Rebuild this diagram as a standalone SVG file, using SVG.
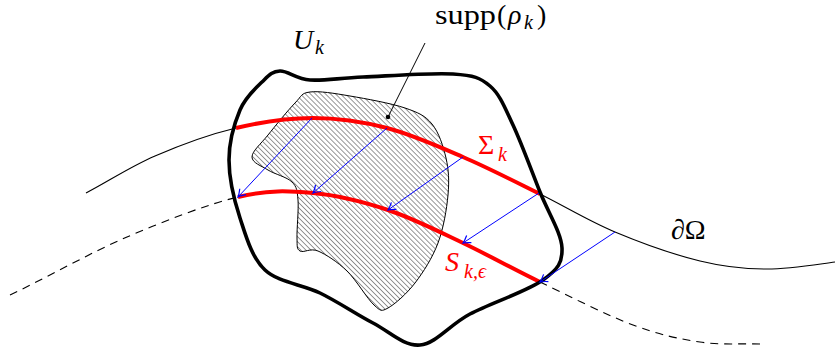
<svg xmlns="http://www.w3.org/2000/svg" width="835" height="351" viewBox="0 0 835 351">
<style>
  .thin{fill:none;stroke:#000;stroke-width:1.1}
  .dash{fill:none;stroke:#000;stroke-width:1.1;stroke-dasharray:8 6}
  .red{fill:none;stroke:#ff0000;stroke-width:4}
  .blue{fill:none;stroke:#0000ff;stroke-width:1;marker-end:url(#ah)}
  .uk{fill:none;stroke:#000;stroke-width:3.6;stroke-linejoin:round}
  .lbl{font-family:'Liberation Serif',serif;font-size:28px;fill:#000}
  .it{font-style:italic}
  .sub{font-size:20px;font-style:italic}
  .rd{fill:#ff0000}
</style>
<defs>
  <pattern id="hatch" patternUnits="userSpaceOnUse" width="3.55" height="3.55" patternTransform="rotate(-45)">
    <line x1="0" y1="-1" x2="0" y2="4.6" stroke="#444" stroke-width="1.1"/>
  </pattern>
  <marker id="ah" markerUnits="userSpaceOnUse" markerWidth="12" markerHeight="12" refX="0" refY="0" viewBox="-7 -5 9 10" orient="auto" overflow="visible">
    <path d="M-6,-3.6 Q-2.2,-0.8 0,0 Q-2.2,0.8 -6,3.6" fill="none" stroke="#0000ff" stroke-width="1"/>
  </marker>
</defs>

<g id="boundary-omega">
  <path class="thin" d="M86,193 C109,181 130,166.8 155,156 C180,145.2 209.7,134.3 236,128"/>
  <path class="thin" d="M540,194 C565.3,206.5 588.3,220.8 615,232 C641.7,243.2 674.7,254.8 700,261 C725.3,267.2 744.5,269.2 767,269 C789.5,268.8 812.3,265 835,262"/>
</g>
<g id="shifted-boundary">
  <path class="dash" d="M10,295 C50,276 89,253.3 127,237 C165,220.7 207,204.3 238,197"/>
  <path class="dash" d="M540,282 C568.3,295.7 606.3,315 633,325 C659.7,335 678.8,338.8 700,342 C721.2,345.2 740,343.3 760,344"/>
</g>

<g id="supp-rho">
  <path d="M310,92 C319.2,90.8 334.2,93.3 350,96 C365.8,98.7 391.3,103.3 405,108 C418.7,112.7 425.2,115.7 432,124 C438.8,132.3 443.3,146.2 446,158 C448.7,169.8 449.3,180.8 448,195 C446.7,209.2 443.5,228.3 438,243 C432.5,257.7 423.3,272.2 415,283 C406.7,293.8 394.8,304.3 388,308 C381.2,311.7 380.8,311.2 374,305 C367.2,298.8 356.3,280 347,271 C337.7,262 325.8,254.3 318,251 C310.2,247.7 303.5,253.2 300,251 C296.5,248.8 297.3,246.5 297,238 C296.7,229.5 298.8,209.3 298,200 C297.2,190.7 297,187 292,182 C287,177 274.7,174.2 268,170 C261.3,165.8 252,162.8 252,157 C252,151.2 260.8,144 268,135 C275.2,126 288,110.2 295,103 C302,95.8 300.8,93.2 310,92 Z" fill="url(#hatch)" stroke="#000" stroke-width="1"/>
</g>

<g id="Sigma-k">
  <path class="red" d="M236,128 C262.3,121.7 287.8,118 313,118 C338.2,118 362,121.5 387,128 C412,134.5 437.5,146 463,157 C488.5,168 514.7,181.5 540,194"/>
</g>
<g id="S-k-eps">
  <path class="red" d="M238,197 C269,189.7 288,190.8 313,193 C338,195.2 363,201.7 388,210 C413,218.3 437.7,231 463,243 C488.3,255 511.7,268.3 540,282"/>
</g>

<g id="U-k">
  <path class="uk" d="M280,71 C288,70.7 296.2,79 310,80 C323.8,81 339.2,78 363,77 C386.8,76 431.8,72.5 453,74 C474.2,75.5 480,77.5 490,86 C500,94.5 504.7,107.3 513,125 C521.3,142.7 531.8,171.5 540,192 C548.2,212.5 561.5,233.3 562,248 C562.5,262.7 558.3,269 543,280 C527.7,291 490.5,303.2 470,314 C449.5,324.8 436.2,343.5 420,345 C403.8,346.5 389.7,331.7 373,323 C356.3,314.3 338,301.8 320,293 C302,284.2 278.3,282.5 265,270 C251.7,257.5 246,236.3 240,218 C234,199.7 229,178 229,160 C229,142 234.5,123 240,110 C245.5,97 255.3,88.5 262,82 C268.7,75.5 272,71.3 280,71 Z"/>
</g>

<g id="connectors">
  <line class="blue" x1="312" y1="118" x2="238" y2="197"/>
  <line class="blue" x1="387" y1="128" x2="313" y2="193"/>
  <line class="blue" x1="463" y1="157" x2="388" y2="210"/>
  <line class="blue" x1="539" y1="193" x2="463" y2="243"/>
  <line class="blue" x1="615" y1="232" x2="540" y2="282"/>
  <line x1="425" y1="43" x2="388" y2="117" stroke="#000" stroke-width="1"/>
  <circle cx="388" cy="117" r="2.3" fill="#000"/>
</g>

<g id="labels">
  <text class="lbl" font-family="Liberation Serif, serif"><tspan class="it" x="293" y="49">U</tspan><tspan class="sub" x="315" y="54">k</tspan></text>
  <text class="lbl" font-family="Liberation Serif, serif"><tspan x="435" y="24" textLength="61" lengthAdjust="spacingAndGlyphs">supp</tspan><tspan x="497" y="24">(</tspan><tspan class="it" x="508" y="24">ρ</tspan><tspan class="sub" x="524" y="29">k</tspan><tspan x="537" y="24">)</tspan></text>
  <text class="lbl rd" font-family="Liberation Serif, serif"><tspan x="478" y="154">Σ</tspan><tspan class="sub" x="498" y="161">k</tspan></text>
  <text class="lbl rd" font-family="Liberation Serif, serif"><tspan class="it" x="445" y="271">S</tspan><tspan class="sub" x="464" y="278">k,ϵ</tspan></text>
  <text class="lbl" font-family="Liberation Serif, serif" x="671" y="239">∂Ω</text>
</g>
</svg>
